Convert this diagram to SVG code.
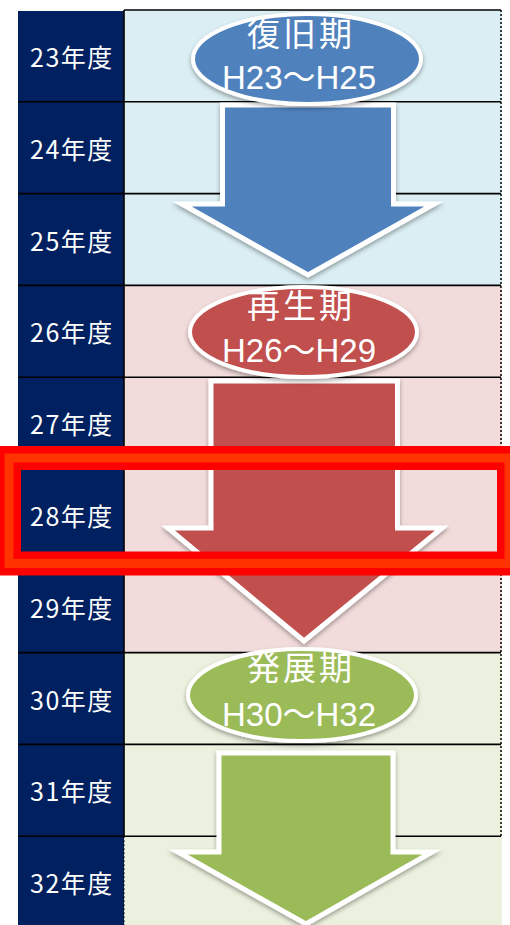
<svg xmlns="http://www.w3.org/2000/svg" width="510" height="925" viewBox="0 0 510 925">
<defs>
<style>
.yr{font-family:"Noto Sans CJK JP","Noto Sans CJK SC",sans-serif;font-size:25px;letter-spacing:1.5px;fill:#fff;text-anchor:middle}
.ph{font-family:"Noto Sans CJK JP","Noto Sans CJK SC",sans-serif;font-size:33px;letter-spacing:3px;fill:#fff;text-anchor:middle}
.hy{font-family:"Liberation Sans","Noto Sans CJK JP",sans-serif;font-size:33px;fill:#fff;text-anchor:middle}
.rl{stroke:#000;stroke-width:1.6}
.sh{stroke:#fff;stroke-width:5;stroke-linejoin:miter;filter:url(#ds)}
.el{stroke:#fff;stroke-width:4;filter:url(#ds)}
</style>
<filter id="ds" x="-20%" y="-20%" width="140%" height="150%">
<feDropShadow dx="0" dy="2.5" stdDeviation="2" flood-color="#000" flood-opacity="0.35"/>
</filter>
</defs>
<rect width="510" height="925" fill="#fff"/>
<g id="cells">
<rect x="124" y="10" width="378" height="275.4" fill="#DAEEF3"/>
<rect x="124" y="285.4" width="378" height="367.2" fill="#F2DCDB"/>
<rect x="124" y="652.6" width="378" height="272.4" fill="#EBF1DE"/>
<rect x="18" y="11" width="106" height="914" fill="#002060"/>
</g>
<g id="grid">
<line class="rl" x1="124" y1="10" x2="501" y2="10"/>
<line class="rl" x1="18" y1="101.8" x2="501" y2="101.8"/>
<line class="rl" x1="18" y1="193.6" x2="501" y2="193.6"/>
<line class="rl" x1="18" y1="285.4" x2="501" y2="285.4"/>
<line class="rl" x1="18" y1="377.2" x2="501" y2="377.2"/>
<line class="rl" x1="18" y1="469" x2="501" y2="469"/>
<line class="rl" x1="18" y1="560.8" x2="501" y2="560.8"/>
<line class="rl" x1="18" y1="652.6" x2="501" y2="652.6"/>
<line class="rl" x1="18" y1="744.4" x2="501" y2="744.4"/>
<line class="rl" x1="18" y1="836.2" x2="501" y2="836.2"/>
<line class="rl" x1="124" y1="10" x2="124" y2="836.2"/>
<line x1="501" y1="10" x2="501" y2="836.2" stroke="#000" stroke-width="1.5" stroke-dasharray="2,2"/>
<line x1="124" y1="836.2" x2="124" y2="925" stroke="#000" stroke-width="1" stroke-dasharray="2,2"/>
</g>
<g id="years">
<text class="yr" x="72" y="67">23年度</text>
<text class="yr" x="72" y="159">24年度</text>
<text class="yr" x="72" y="250.5">25年度</text>
<text class="yr" x="72" y="342">26年度</text>
<text class="yr" x="72" y="434">27年度</text>
<text class="yr" x="72" y="526">28年度</text>
<text class="yr" x="72" y="618">29年度</text>
<text class="yr" x="72" y="709.5">30年度</text>
<text class="yr" x="72" y="801">31年度</text>
<text class="yr" x="72" y="893">32年度</text>
</g>
<g id="connectors">
<polygon class="sh" fill="#4F81BD" points="222.5,105 393.5,105 393.5,204 434,204 308,275 182,204 222.5,204"/>
<polygon class="sh" fill="#C0504D" points="211,381 397.5,381 397.5,528 442,528 304,641 168,528 211,528"/>
<polygon class="sh" fill="#9BBB59" points="219,753 393,753 393,852 432,852 306,924 178,852 219,852"/>
</g>
<g id="phase-recovery">
<ellipse class="el" cx="307" cy="59" rx="114" ry="45" fill="#4F81BD"/>
<text class="ph" x="301" y="46">復旧期</text>
<text class="hy" x="299" y="89">H23～H25</text>
</g>
<g id="phase-regeneration">
<ellipse class="el" cx="303.5" cy="332" rx="113.5" ry="45" fill="#C0504D"/>
<text class="ph" x="301" y="318">再生期</text>
<text class="hy" x="299" y="362">H26～H29</text>
</g>
<g id="phase-development">
<ellipse class="el" cx="302" cy="695" rx="114" ry="46" fill="#9BBB59"/>
<text class="ph" x="301" y="680">発展期</text>
<text class="hy" x="299" y="726">H30～H32</text>
</g>
<g id="highlight">
<rect x="9" y="458" width="500" height="105.5" fill="none" stroke="#FF0000" stroke-width="24"/>
<rect x="9" y="458" width="500" height="105.5" fill="none" stroke="#FF3300" stroke-width="9"/>
</g>
</svg>
